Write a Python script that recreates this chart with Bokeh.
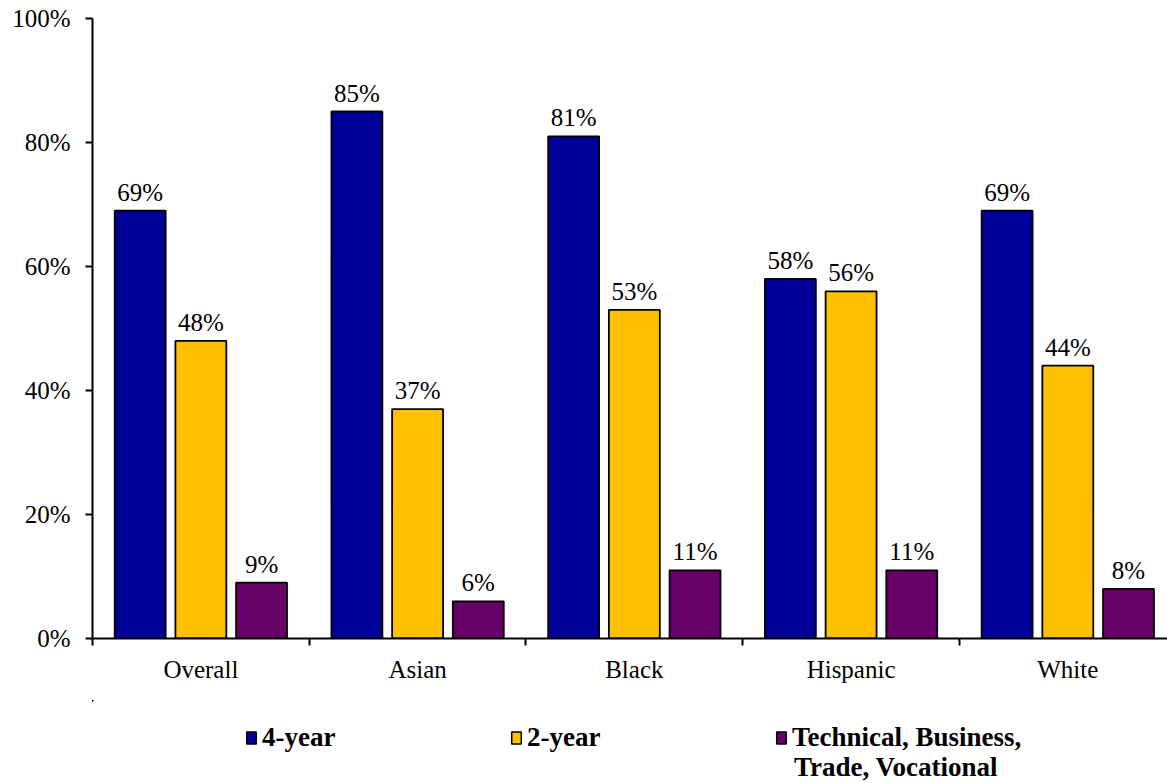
import numpy as np
from bokeh.plotting import figure
from bokeh.layouts import column
from bokeh.models import (Range1d, FixedTicker, Legend, LegendItem, ColumnDataSource)
from bokeh.core.properties import value
from bokeh.embed import file_html
from bokeh.resources import INLINE

categories = ["Overall", "Asian", "Black", "Hispanic", "White"]
series_names = ["4-year", "2-year", "Technical, Business,"]
series_name_cont = "Trade, Vocational"
four_year = [69, 85, 81, 58, 69]
two_year = [48, 37, 53, 56, 44]
technical = [9, 6, 11, 11, 8]
y_ticks = [0, 20, 40, 60, 80, 100]
y_tick_labels = ["0%", "20%", "40%", "60%", "80%", "100%"]

colors = ["#000099", "#FFC000", "#660066"]
series = [four_year, two_year, technical]
offsets = [-0.28, 0.0, 0.28]
bar_w = 0.235
FONT = "Liberation Serif"

p = figure(width=1167, height=700, output_backend="svg", toolbar_location=None,
           x_range=Range1d(0, 4.96), y_range=Range1d(0, 100),
           min_border_left=92, min_border_right=0, min_border_top=18, min_border_bottom=62)
p.outline_line_color = None
p.xgrid.visible = False
p.ygrid.visible = False
p.background_fill_color = "white"
p.border_fill_color = "white"

centers = np.arange(len(categories)) + 0.5

# y axis
ya = p.yaxis[0]
ya.ticker = FixedTicker(ticks=y_ticks, minor_ticks=[])
ya.major_label_overrides = {t: l for t, l in zip(y_ticks, y_tick_labels)}
ya.major_tick_out = 7
ya.major_tick_in = 0
ya.minor_tick_out = 0
ya.axis_line_width = 2
ya.major_tick_line_width = 2
ya.major_label_text_font = FONT
ya.major_label_text_font_size = "25px"
ya.major_label_text_color = "black"
ya.major_label_standoff = 15

# x axis
xa = p.xaxis[0]
xa.ticker = FixedTicker(ticks=list(centers), minor_ticks=list(range(len(categories))))
xa.major_label_overrides = {float(c): n for c, n in zip(centers, categories)}
xa.major_tick_out = 0
xa.major_tick_in = 0
xa.minor_tick_out = 7
xa.minor_tick_in = 0
xa.minor_tick_line_width = 2
xa.axis_line_width = 2
xa.major_label_text_font = FONT
xa.major_label_text_font_size = "25px"
xa.major_label_text_color = "black"
xa.major_label_standoff = 10

for vals, col, off in zip(series, colors, offsets):
    src = ColumnDataSource(dict(x=centers + off, top=vals,
                                lab=[f"{v}%" for v in vals]))
    p.vbar(x="x", top="top", width=bar_w, bottom=0, source=src,
           fill_color=col, line_color="black", line_width=1.8)
    p.text(x="x", y="top", text="lab", source=src, text_align="center",
           text_baseline="bottom", y_offset=-5,
           text_font=value(FONT), text_font_size="25px", text_color="black")

# legend strip below the chart (its bars lie far outside its view; only legend swatches show)
lg = figure(width=1167, height=83, output_backend="svg", toolbar_location=None,
            x_range=Range1d(100, 101), y_range=Range1d(-300, -200),
            min_border_left=0, min_border_right=0, min_border_top=0, min_border_bottom=0)
lg.axis.visible = False
lg.grid.visible = False
lg.outline_line_color = None
lg.border_fill_color = "white"
lg.background_fill_color = "white"
leg_renderers = []
for vals, col, off in zip(series, colors, offsets):
    leg_renderers.append(lg.vbar(x=centers + off, top=vals, bottom=0, width=bar_w,
                                 fill_color=col, line_color="black", line_width=1.5))

common = dict(orientation="horizontal", padding=0, margin=0,
              border_line_color=None, background_fill_alpha=0,
              label_text_font=FONT, label_text_font_style="bold",
              label_text_font_size="27px", label_text_color="black",
              label_text_line_height=1.1)
legend = Legend(items=[LegendItem(label=n, renderers=[r]) for n, r in zip(series_names, leg_renderers)],
                location=(153, 30), glyph_width=12, glyph_height=15, label_standoff=5,
                label_width=241, spacing=7, **common)
lg.add_layout(legend)
legend2 = Legend(items=[LegendItem(label=series_name_cont, renderers=[leg_renderers[2]])],
                 location=(702, 0), glyph_width=0, glyph_height=14, label_standoff=0,
                 label_width=100, spacing=0, **common)
lg.add_layout(legend2)

layout = column(p, lg, spacing=0)
open("out.html", "w").write(file_html(layout, INLINE))
